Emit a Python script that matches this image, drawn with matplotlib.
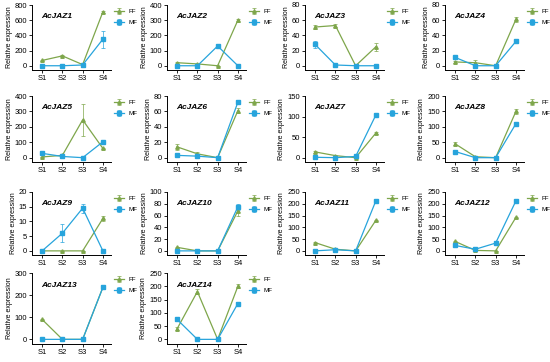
import numpy as np
import matplotlib
matplotlib.use("Agg")
from matplotlib import pyplot as plt

plt.rcParams['font.family'] = ['Liberation Sans', 'DejaVu Sans']

stages = ["S1", "S2", "S3", "S4"]
genes = ["AcJAZ1", "AcJAZ2", "AcJAZ3", "AcJAZ4", "AcJAZ5", "AcJAZ6", "AcJAZ7",
         "AcJAZ8", "AcJAZ9", "AcJAZ10", "AcJAZ11", "AcJAZ12", "AcJAZ13", "AcJAZ14"]

# FF / MF means and error bars per gene
ff = [[70, 130, 15, 710], [20, 12, 0, 300], [51, 53, 0, 25], [5, 4, 0, 61],
      [5, 15, 245, 60], [14, 5, 0, 61], [14, 5, 0, 60], [45, 3, 0, 150],
      [0, 0, 0, 11], [6, 0, 0, 68], [35, 7, 0, 130], [40, 2, 0, 142],
      [90, 0, 0, 235], [40, 180, 0, 200]]
ff_err = [[5, 5, 3, 15], [3, 2, 0, 10], [3, 2, 0, 5], [1, 3, 0, 3],
          [2, 3, 105, 4], [4, 2, 0, 3], [3, 1, 0, 2], [5, 1, 0, 8],
          [0, 0, 0, 1], [1, 0, 0, 8], [2, 1, 0, 3], [2, 1, 0, 3],
          [3, 0, 0, 5], [5, 8, 0, 8]]
mf = [[0, 0, 10, 350], [0, 0, 130, 0], [28, 1, 0, 0], [11, 0, 0, 32],
      [28, 8, 0, 103], [3, 2, 0, 72], [1, 0, 3, 104], [20, 0, 0, 110],
      [0, 6, 14.5, 0], [0, 0, 0, 75], [0, 5, 0, 213], [23, 7, 33, 212],
      [0, 0, 0, 235], [75, 0, 0, 135]]
mf_err = [[1, 1, 2, 110], [1, 1, 5, 1], [5, 0.5, 0, 0], [1, 0, 0, 2],
          [3, 2, 0, 4], [1, 1, 0, 3], [1, 0, 1, 2], [2, 0, 0, 3],
          [0, 3, 1.5, 0], [0, 0, 0, 5], [0, 1, 0, 5], [2, 1, 2, 5],
          [0, 0, 0, 4], [5, 0, 0, 5]]
ytops = [800, 400, 80, 80, 400, 80, 150, 200, 20, 100, 250, 250, 300, 250]
ysteps = [200, 100, 20, 20, 100, 20, 50, 50, 5, 20, 50, 50, 100, 50]

green = "#7ea64b"
blue = "#27a4dc"

fig = plt.figure(figsize=(5.5, 3.62), dpi=100)
W, H = 550.0, 362.0
col_left = [32, 167, 305, 445]
row_top = [5, 96, 192, 273]
row_bot = [70, 162, 255, 344]
aw = 79

for i, g in enumerate(genes):
    r, c = divmod(i, 4)
    ax = fig.add_axes([col_left[c] / W, 1 - row_bot[r] / H, aw / W, (row_bot[r] - row_top[r]) / H])
    x = np.arange(4)
    top = ytops[i]
    ax.errorbar(x, ff[i], yerr=ff_err[i], color=green, marker='^', ms=2.5, lw=0.9,
                elinewidth=0.5, capsize=1.2, capthick=0.5, label="FF")
    ax.errorbar(x, mf[i], yerr=mf_err[i], color=blue, marker='s', ms=2.5, lw=0.9,
                elinewidth=0.5, capsize=1.2, capthick=0.5, label="MF")
    ax.set_xlim(-0.5, 3.4)
    ax.set_ylim(-top * 0.07, top)
    ax.set_yticks(np.arange(0, top + ysteps[i] / 2, ysteps[i]))
    ax.set_xticks(x)
    ax.set_xticklabels(stages)
    for s in ["top", "right"]:
        ax.spines[s].set_visible(False)
    for s in ["left", "bottom"]:
        ax.spines[s].set_linewidth(0.7)
    ax.tick_params(labelsize=5.5, width=0.6, length=2, pad=1.5)
    ax.set_ylabel("Relative expression", fontsize=5, labelpad=1.5)
    ax.text(0.12, 0.8, g, transform=ax.transAxes, fontsize=6,
            fontweight='bold', fontstyle='italic')
    ax.legend(loc="upper left", bbox_to_anchor=(1.0, 0.98), fontsize=4.5,
              frameon=False, handlelength=1.6, borderaxespad=0, labelspacing=0.9)

fig.savefig("out.png", dpi=100)
